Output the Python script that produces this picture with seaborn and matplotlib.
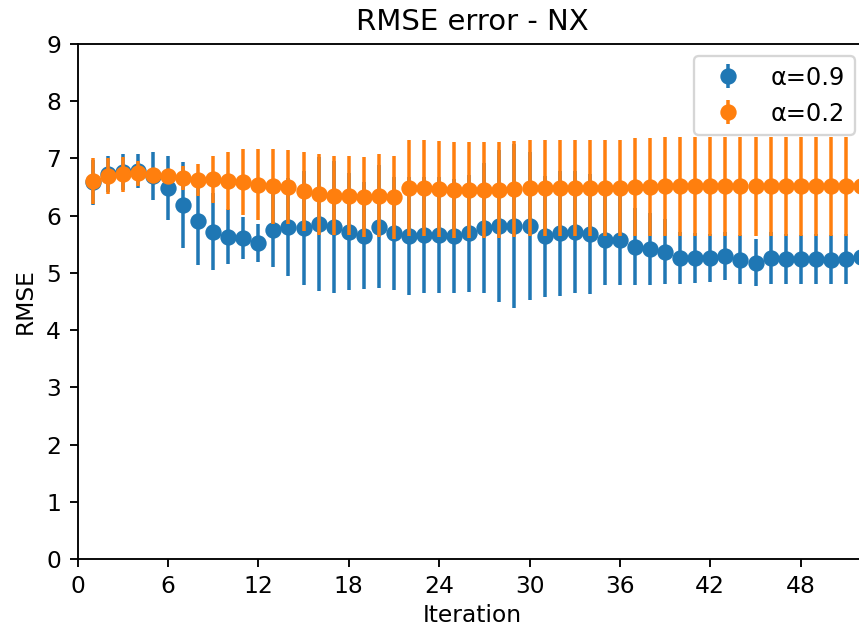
import numpy as np
import pandas as pd
import matplotlib
matplotlib.use("Agg")
import matplotlib.pyplot as plt
import seaborn as sns
from matplotlib.lines import Line2D
from matplotlib.collections import LineCollection
from matplotlib.container import ErrorbarContainer

iterations = list(range(1, 53))

rmse_a09 = [6.58, 6.73, 6.76, 6.78, 6.70, 6.48, 6.18, 5.90, 5.72, 5.63,
            5.61, 5.52, 5.75, 5.80, 5.78, 5.86, 5.80, 5.72, 5.65, 5.81,
            5.69, 5.65, 5.66, 5.66, 5.64, 5.69, 5.78, 5.82, 5.82, 5.82,
            5.64, 5.69, 5.71, 5.68, 5.58, 5.58, 5.46, 5.42, 5.37, 5.26,
            5.26, 5.26, 5.30, 5.23, 5.18, 5.26, 5.24, 5.24, 5.24, 5.23,
            5.24, 5.27]
err_a09 = [0.40, 0.31, 0.31, 0.30, 0.42, 0.56, 0.75, 0.76, 0.67, 0.48,
           0.37, 0.33, 0.64, 0.86, 1.00, 1.17, 1.15, 1.02, 0.94, 1.07,
           0.99, 1.03, 1.02, 1.02, 1.00, 1.02, 1.14, 1.33, 1.44, 1.29,
           1.06, 1.09, 1.07, 1.05, 0.80, 0.80, 0.67, 0.63, 0.57, 0.45,
           0.44, 0.42, 0.42, 0.43, 0.41, 0.46, 0.44, 0.43, 0.44, 0.43,
           0.44, 0.44]

rmse_a02 = [6.60, 6.69, 6.72, 6.74, 6.71, 6.69, 6.66, 6.63, 6.64, 6.61,
            6.59, 6.54, 6.51, 6.50, 6.43, 6.37, 6.35, 6.35, 6.32, 6.35,
            6.32, 6.48, 6.48, 6.47, 6.45, 6.45, 6.45, 6.45, 6.46, 6.48,
            6.48, 6.48, 6.48, 6.48, 6.49, 6.49, 6.50, 6.50, 6.51, 6.51,
            6.51, 6.51, 6.51, 6.51, 6.51, 6.51, 6.51, 6.51, 6.51, 6.51,
            6.51, 6.51]
err_a02 = [0.40, 0.32, 0.31, 0.22, 0.12, 0.10, 0.21, 0.28, 0.41, 0.51,
           0.57, 0.62, 0.65, 0.65, 0.69, 0.70, 0.69, 0.69, 0.70, 0.73,
           0.72, 0.84, 0.84, 0.84, 0.84, 0.84, 0.84, 0.84, 0.84, 0.84,
           0.84, 0.84, 0.84, 0.84, 0.84, 0.84, 0.86, 0.86, 0.86, 0.86,
           0.86, 0.86, 0.86, 0.86, 0.86, 0.86, 0.86, 0.86, 0.86, 0.86,
           0.86, 0.86]

series_labels = ["α=0.9", "α=0.2"]
colors = sns.color_palette("tab10", 2)

x_ticks = [0, 6, 12, 18, 24, 30, 36, 42, 48]
y_ticks = [0, 1, 2, 3, 4, 5, 6, 7, 8, 9]

DPI = 168
fig = plt.figure(figsize=(859 / DPI, 630 / DPI), dpi=DPI)
ax = fig.add_axes([77.5 / 859, 1 - 559 / 630, (867 - 77.5) / 859, 515 / 630])

handles = []
series = [(rmse_a09, err_a09), (rmse_a02, err_a02)]
for k, ((vals, errs), lab, col) in enumerate(zip(series, series_labels, colors)):
    df = pd.DataFrame({"Iteration": iterations, "RMSE": vals, "err": errs})
    z = 2 + 2 * k
    ax.errorbar(df["Iteration"], df["RMSE"], yerr=df["err"], fmt="none",
                ecolor=col, elinewidth=1.5, zorder=z)
    sns.scatterplot(data=df, x="Iteration", y="RMSE", ax=ax, color=col,
                    s=36, edgecolor=col, linewidth=1.0, marker="o",
                    zorder=z + 0.5, legend=False)
    dl = Line2D([], [], marker="o", linestyle="none", color=col, markersize=6)
    bl = LineCollection([], colors=[col], linewidths=1.5)
    handles.append(ErrorbarContainer((dl, (), (bl,)), has_xerr=False,
                                     has_yerr=True, label=lab))

ax.set_xlim(0, 52.4)
ax.set_ylim(0, 9)
ax.set_xticks(x_ticks)
ax.set_yticks(y_ticks)
ax.set_xlabel("Iteration", labelpad=2.5)
ax.set_ylabel("RMSE", labelpad=4)
ax.set_title("RMSE error - NX", fontsize=12.5)
ax.legend(handles=handles, labels=series_labels, loc="upper right",
          fontsize=10.3)

fig.savefig("out.png", dpi=DPI)
